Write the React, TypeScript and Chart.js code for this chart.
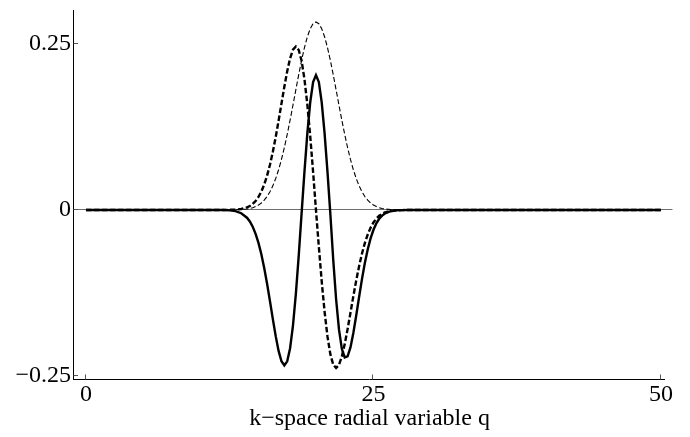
import React, { useEffect, useRef } from "react";
import { Chart, registerables } from "chart.js";

Chart.register(...registerables);

// k-space radial variable q (sample positions)
const Q = [
  0, 5, 10, 12, 12.5, 13, 13.5,
  14, 14.25, 14.5, 14.75, 15, 15.25, 15.5, 15.75, 16, 16.25, 16.5, 16.75,
  17, 17.25, 17.5, 17.75, 18, 18.25, 18.5, 18.75, 19, 19.25, 19.5, 19.75,
  20,
  20.25, 20.5, 20.75, 21, 21.25, 21.5, 21.75, 22, 22.25, 22.5, 22.75, 23,
  23.25, 23.5, 23.75, 24, 24.25, 24.5, 24.75, 25, 25.25, 25.5, 25.75, 26,
  26.5, 27, 27.5, 28, 30, 40, 50,
];

// thin dashed curve (bell)
const BELL = [
  0, 0, 0, 0, 0.0001, 0.0002, 0.0006,
  0.0015, 0.0023, 0.0034, 0.0051, 0.0073, 0.0105, 0.0147, 0.0202, 0.0273, 0.0363, 0.0473, 0.0605,
  0.076, 0.0938, 0.1136, 0.1351, 0.1578, 0.1809, 0.2037, 0.2252, 0.2445, 0.2607, 0.2728, 0.2804,
  0.283,
  0.2804, 0.2728, 0.2607, 0.2445, 0.2252, 0.2037, 0.1809, 0.1578, 0.1351, 0.1136, 0.0938, 0.076,
  0.0605, 0.0473, 0.0363, 0.0273, 0.0202, 0.0147, 0.0105, 0.0073, 0.0051, 0.0034, 0.0023, 0.0015,
  0.0006, 0.0002, 0.0001, 0, 0, 0, 0,
];

// thick dashed curve
const DASHED = [
  0, 0, 0, 0, 0.0002, 0.0005, 0.0015,
  0.0039, 0.006, 0.0091, 0.0135, 0.0196, 0.0276, 0.0383, 0.0516, 0.0681, 0.0875, 0.1098, 0.1343,
  0.16, 0.1854, 0.2089, 0.2282, 0.2413, 0.246, 0.2408, 0.2245, 0.1969, 0.1586, 0.1113, 0.0573,
  0,
  -0.0555, -0.1076, -0.1534, -0.1904, -0.2171, -0.2329, -0.238, -0.2333, -0.2207, -0.202, -0.1794, -0.1548,
  -0.1299, -0.1062, -0.0847, -0.0658, -0.0499, -0.037, -0.0267, -0.0189, -0.0131, -0.0088, -0.0058, -0.0038,
  -0.0015, -0.0005, -0.0002, 0, 0, 0, 0,
];

// solid curve
const SOLID = [
  0, 0, 0, 0, -0.0006, -0.0018, -0.0049,
  -0.0117, -0.0174, -0.0253, -0.0359, -0.0496, -0.0668, -0.0874, -0.1112, -0.1373, -0.1643, -0.19, -0.2122,
  -0.2278, -0.2339, -0.2279, -0.2082, -0.1741, -0.1268, -0.0691, -0.0052, 0.0576, 0.1153, 0.1621, 0.1925,
  0.203,
  0.1925, 0.1621, 0.1153, 0.0576, -0.0057, -0.0746, -0.1341, -0.1798, -0.2091, -0.2221, -0.2204, -0.2069,
  -0.1852, -0.1588, -0.131, -0.1042, -0.08, -0.0595, -0.0429, -0.0299, -0.0203, -0.0133, -0.0085, -0.0053,
  -0.0019, -0.0006, -0.0002, 0, 0, 0, 0,
];

const X_TICKS = [0, 25, 50];
const X_TICK_LABELS = ["0", "25", "50"];
const Y_TICKS = [-0.25, 0, 0.25];
const Y_TICK_LABELS = ["\u22120.25", "0", "0.25"];
const X_TITLE = "k\u2212space radial variable q";

const X_MIN = -1.04;
const X_MAX = 50.35;
const Y_MIN = -0.256;
const Y_MAX = 0.301;
const ZERO_LINE_END = 51.0;

const FONT = "'Liberation Serif', 'Times New Roman', Times, serif";

const toPoints = (ys: number[]) => Q.map((q, i) => ({ x: q, y: ys[i] }));

const framePlugin = {
  id: "frame",
  beforeDatasetsDraw(chart: any) {
    const { ctx, chartArea, scales } = chart;
    const x = scales.x;
    const y = scales.y;
    const y0 = Math.round(y.getPixelForValue(0)) - 0.5;
    ctx.save();
    ctx.strokeStyle = "#6e6e6e";
    ctx.lineWidth = 1;
    ctx.beginPath();
    ctx.moveTo(chartArea.left, y0);
    ctx.lineTo(x.getPixelForValue(ZERO_LINE_END), y0);
    ctx.stroke();
    ctx.restore();
  },
  afterDraw(chart: any) {
    const { ctx, chartArea, scales } = chart;
    const x = scales.x;
    const y = scales.y;
    const left = chartArea.left - 0.5;
    const bottom = chartArea.bottom - 0.5;
    ctx.save();
    ctx.strokeStyle = "#000";
    ctx.lineWidth = 1;
    ctx.beginPath();
    ctx.moveTo(left, chartArea.top);
    ctx.lineTo(left, chartArea.bottom);
    ctx.moveTo(left, bottom);
    ctx.lineTo(chartArea.right, bottom);
    ctx.stroke();
    ctx.strokeStyle = "#555";
    ctx.beginPath();
    Y_TICKS.forEach((v) => {
      const py = Math.round(y.getPixelForValue(v)) - 0.5;
      ctx.moveTo(left, py);
      ctx.lineTo(left + 4.5, py);
    });
    X_TICKS.forEach((v) => {
      const px = Math.round(x.getPixelForValue(v)) - 0.5;
      ctx.moveTo(px, bottom);
      ctx.lineTo(px, bottom - 5);
    });
    ctx.stroke();
    ctx.restore();
  },
};

export default function App() {
  const canvasRef = useRef<HTMLCanvasElement | null>(null);

  useEffect(() => {
    const canvas = canvasRef.current;
    if (!canvas) return;
    const chart = new Chart(canvas, {
      type: "line",
      data: {
        datasets: [
          {
            label: "solid",
            data: toPoints(SOLID),
            borderColor: "#000",
            borderWidth: 2.4,
            pointRadius: 0,
            tension: 0,
            fill: false,
          },
          {
            label: "dashed",
            data: toPoints(DASHED),
            borderColor: "#000",
            borderWidth: 2.4,
            borderDash: [5.5, 2.5],
            pointRadius: 0,
            tension: 0,
            fill: false,
          },
          {
            label: "bell",
            data: toPoints(BELL),
            borderColor: "#000",
            borderWidth: 1.1,
            borderDash: [5, 2.5],
            pointRadius: 0,
            tension: 0,
            fill: false,
          },
        ],
      },
      options: {
        responsive: false,
        animation: false,
        events: [],
        layout: { padding: { left: 0, right: 25, top: 10, bottom: 0 } },
        plugins: {
          legend: { display: false },
          tooltip: { enabled: false },
          title: { display: false },
        },
        scales: {
          x: {
            type: "linear",
            min: X_MIN,
            max: X_MAX,
            afterBuildTicks: (s: any) => {
              s.ticks = X_TICKS.map((v) => ({ value: v }));
            },
            afterFit: (s: any) => {
              s.height = 57;
              s.paddingLeft = 0;
              s.paddingRight = 0;
            },
            grid: { display: false, drawTicks: false },
            border: { display: false },
            ticks: {
              padding: 0,
              autoSkip: false,
              maxRotation: 0,
              color: "#000",
              font: { family: FONT, size: 24 },
              callback: (v: any) => {
                const i = X_TICKS.indexOf(Number(v));
                return i >= 0 ? X_TICK_LABELS[i] : "";
              },
            },
            title: {
              display: true,
              text: X_TITLE,
              color: "#000",
              font: { family: FONT, size: 24 },
              padding: { top: 0, bottom: 4 },
            },
          },
          y: {
            type: "linear",
            min: Y_MIN,
            max: Y_MAX,
            afterBuildTicks: (s: any) => {
              s.ticks = Y_TICKS.map((v) => ({ value: v }));
            },
            afterFit: (s: any) => {
              s.width = 74;
              s.paddingTop = 0;
              s.paddingBottom = 0;
            },
            grid: { display: false, drawTicks: false },
            border: { display: false },
            ticks: {
              padding: 3,
              autoSkip: false,
              color: "#000",
              font: { family: FONT, size: 24 },
              callback: (v: any) => {
                const i = Y_TICKS.indexOf(Number(v));
                return i >= 0 ? Y_TICK_LABELS[i] : "";
              },
            },
          },
        },
      },
      plugins: [framePlugin],
    });
    return () => chart.destroy();
  }, []);

  return (
    <div style={{ position: "absolute", left: 0, top: 0, width: 690, height: 437, background: "#fff" }}>
      <canvas ref={canvasRef} width={690} height={437} style={{ display: "block" }} />
    </div>
  );
}
